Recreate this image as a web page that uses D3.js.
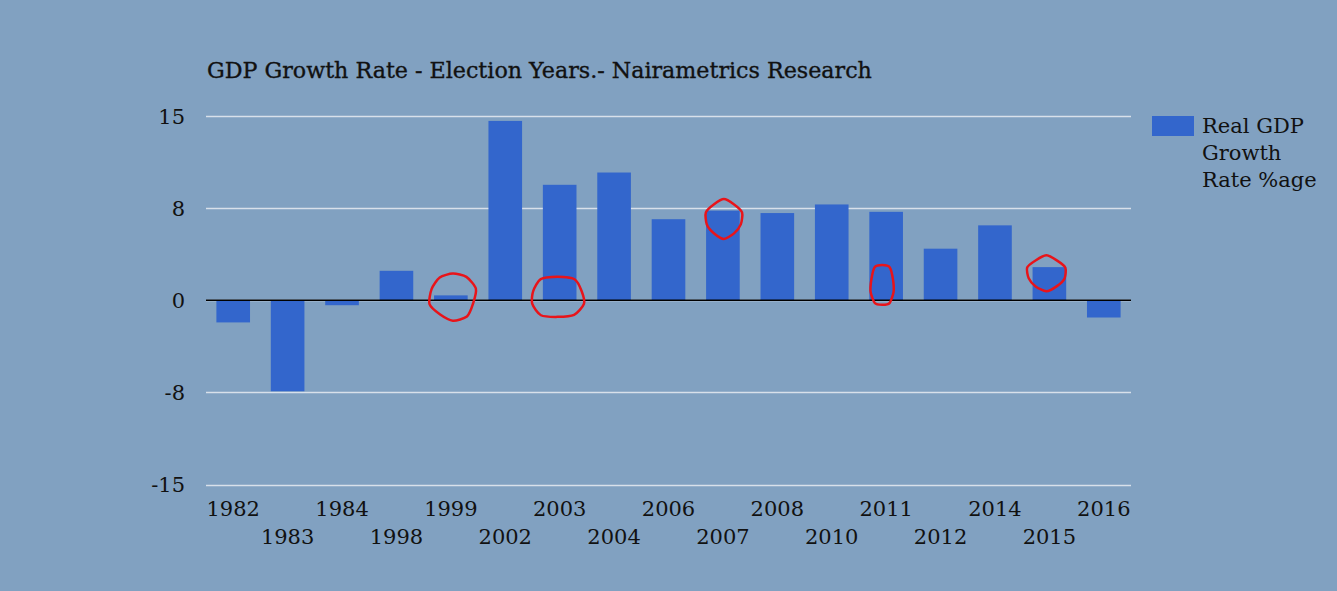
<!DOCTYPE html>
<html>
<head>
<meta charset="utf-8">
<script src="https://cdn.jsdelivr.net/npm/d3@7"></script>
<style>
  body { margin: 0; background: #81a1c1; }
  text { font-family: "DejaVu Serif", serif; fill: #111; }
</style>
</head>
<body>
<div id="chart"></div>
<script>
// chart data
const years = ["1982", "1983", "1984", "1998", "1999", "2002", "2003", "2004", "2006",
               "2007", "2008", "2010", "2011", "2012", "2014", "2015", "2016"];
const growth = [-1.8, -7.4, -0.4, 2.4, 0.4, 14.6, 9.4, 10.4, 6.6,
                7.3, 7.1, 7.8, 7.2, 4.2, 6.1, 2.7, -1.4];
const tickValues = [-15, -7.5, 0, 7.5, 15];
const tickLabels = ["-15", "-8", "0", "8", "15"];
const circledYears = ["1999", "2003", "2007", "2011", "2015"];
const seriesName = ["Real GDP", "Growth", "Rate %age"];
const title = "GDP Growth Rate - Election Years.- Nairametrics Research";

const width = 1337, height = 591;
const margin = {top: 116, right: 206, bottom: 106, left: 206};

const svg = d3.select("#chart").append("svg")
    .attr("width", width)
    .attr("height", height);

svg.append("rect")
    .attr("width", width)
    .attr("height", height)
    .attr("fill", "#81a1c1");

let x = d3.scaleBand()
    .domain(years)
    .range([margin.left, width - margin.right])
    .paddingInner(0.382)
    .paddingOuter(0.191);

let y = d3.scaleLinear()
    .domain([-15, 15])
    .range([height - margin.bottom - 0.4, margin.top]);

// gridlines
svg.append("g")
    .selectAll("line")
    .data(tickValues)
    .enter()
    .append("line")
    .attr("x1", margin.left)
    .attr("x2", width - margin.right)
    .attr("y1", d => Math.round(y(d)) + 0.5)
    .attr("y2", d => Math.round(y(d)) + 0.5)
    .attr("stroke", "#d8e0ea")
    .attr("stroke-width", 1.3);

// y labels
svg.append("g")
    .selectAll("text")
    .data(tickValues)
    .enter()
    .append("text")
    .attr("x", 185)
    .attr("y", d => y(d))
    .attr("dy", "0.36em")
    .attr("text-anchor", "end")
    .style("font-size", "21px")
    .text((d, i) => tickLabels[i]);

// bars
svg.append("g")
    .selectAll("rect")
    .data(growth)
    .enter()
    .append("rect")
    .attr("x", (d, i) => x(years[i]))
    .attr("width", x.bandwidth())
    .attr("y", d => y(Math.max(0, d)))
    .attr("height", d => Math.abs(y(d) - y(0)))
    .attr("fill", "#3366cc");

// baseline
svg.append("line")
    .attr("x1", margin.left)
    .attr("x2", width - margin.right)
    .attr("y1", y(0))
    .attr("y2", y(0))
    .attr("stroke", "#000")
    .attr("stroke-width", 1.5);

// x labels, staggered on two rows
svg.append("g")
    .selectAll("text")
    .data(years)
    .enter()
    .append("text")
    .attr("x", d => x(d) + x.bandwidth() / 2)
    .attr("y", (d, i) => i % 2 === 0 ? 516 : 544)
    .attr("text-anchor", "middle")
    .style("font-size", "21px")
    .text(d => d);

// title
svg.append("text")
    .attr("x", 207)
    .attr("y", 78)
    .style("font-size", "22.2px")
    .style("stroke", "#111")
    .style("stroke-width", 0.35)
    .text(title);

// legend
svg.append("rect")
    .attr("x", 1152)
    .attr("y", 116)
    .attr("width", 42)
    .attr("height", 20)
    .attr("fill", "#3366cc");

svg.append("text")
    .attr("x", 1202)
    .attr("y", 133)
    .style("font-size", "21px")
    .selectAll("tspan")
    .data(seriesName)
    .enter()
    .append("tspan")
    .attr("x", 1202)
    .attr("dy", (d, i) => i === 0 ? 0 : 27)
    .text(d => d);

// red hand-drawn marks round some bars (someone scribbled on the chart)
// where: "base" = around the zero line, "top" = around the bar end
let marks = {
    "1999": {where: "base", dx: 2, dy: -4, rx: 23, ry: 24},
    "2003": {where: "base", dx: -2, dy: -3, rx: 27, ry: 21},
    "2007": {where: "top", dx: 1, dy: 8, rx: 18, ry: 19},
    "2011": {where: "base", dx: -4, dy: -15, rx: 12, ry: 21},
    "2015": {where: "top", dx: -3, dy: 6, rx: 19, ry: 17}
};

let rough = d3.line().curve(d3.curveCardinalClosed.tension(0.3));
svg.append("g")
    .selectAll("path")
    .data(circledYears)
    .enter()
    .append("path")
    .attr("d", d => {
        let i = years.indexOf(d);
        let m = marks[d];
        let cx = x(d) + x.bandwidth() / 2 + m.dx;
        let cy = (m.where === "top" ? y(growth[i]) : y(0)) + m.dy;
        let pts = d3.range(10).map(k => {
            let a = k / 10 * 2 * Math.PI - Math.PI / 2;
            let wob = 1 + 0.07 * Math.sin(k * 2.3 + i);
            return [cx + m.rx * wob * Math.cos(a), cy + m.ry * wob * Math.sin(a)];
        });
        return rough(pts);
    })
    .attr("fill", "none")
    .attr("stroke", "#e8141a")
    .attr("stroke-width", 2.5);
</script>
</body>
</html>
